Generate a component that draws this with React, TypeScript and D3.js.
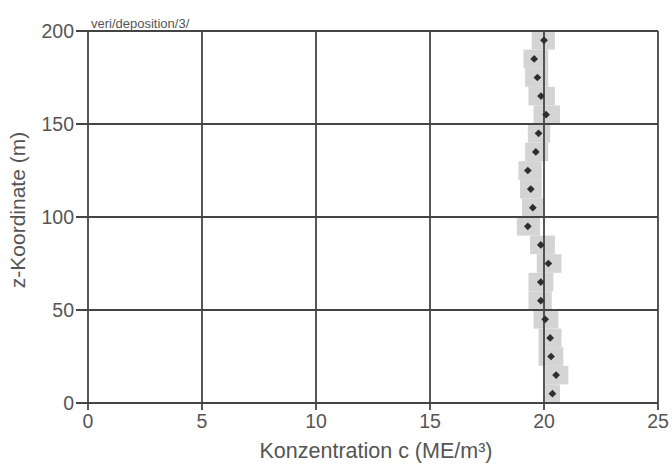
import React from "react";
import * as d3 from "d3";

// Heights (m) and concentrations
const zValues = [5, 15, 25, 35, 45, 55, 65, 75, 85, 95, 105, 115, 125, 135, 145, 155, 165, 175, 185, 195];
const concValues = [20.37, 20.53, 20.31, 20.27, 20.05, 19.86, 19.86, 20.19, 19.86, 19.29, 19.51, 19.42, 19.29, 19.64, 19.76, 20.09, 19.87, 19.71, 19.57, 20.0];
const concLow = [20.05, 20.05, 19.76, 19.76, 19.54, 19.32, 19.32, 19.68, 19.39, 18.81, 19.03, 18.95, 18.88, 19.17, 19.29, 19.54, 19.32, 19.17, 19.1, 19.46];
const concHigh = [20.7, 21.07, 20.85, 20.77, 20.63, 20.34, 20.41, 20.77, 20.48, 19.83, 19.97, 19.9, 19.9, 20.19, 20.27, 20.7, 20.48, 20.19, 20.19, 20.48];
const xTicks = [0, 5, 10, 15, 20, 25];
const yTicks = [0, 50, 100, 150, 200];

const width = 672;
const height = 464;
const marginLeft = 88;
const marginRight = 14;
const marginTop = 31;
const marginBottom = 61;

export default function App() {
  const x = d3.scaleLinear().domain([0, 25]).range([marginLeft, width - marginRight]);
  const y = d3.scaleLinear().domain([0, 200]).range([height - marginBottom, marginTop]);
  const gridColor = "#444";
  const textColor = "#555";
  const font = "'Liberation Sans', Arial, sans-serif";

  // square turned 45deg, like the scanned markers
  const marker = d3.symbol().type(d3.symbolSquare).size(30)();

  return (
    <svg
      width={width}
      height={height}
      style={{ position: "absolute", left: 0, top: 0, background: "#fff" }}
      fontFamily={font}
    >
      {/* gray uncertainty boxes */}
      {zValues.map((z, i) => (
        <rect
          key={"b" + i}
          x={x(concLow[i])}
          y={y(z + 5)}
          width={x(concHigh[i]) - x(concLow[i])}
          height={y(z - 5) - y(z + 5)}
          fill="#d4d4d4"
        />
      ))}

      {/* grid */}
      {xTicks.map((t) => (
        <line key={"gx" + t} x1={x(t)} x2={x(t)} y1={y(200)} y2={y(0) + 7} stroke={gridColor} strokeWidth={1.8} />
      ))}
      {yTicks.map((t) => (
        <line key={"gy" + t} x1={x(0) - 12} x2={x(25)} y1={y(t)} y2={y(t)} stroke={gridColor} strokeWidth={1.8} />
      ))}

      {/* points */}
      {zValues.map((z, i) => (
        <path
          key={"p" + i}
          d={marker}
          transform={`translate(${x(concValues[i])},${y(z)}) rotate(45)`}
          fill="#2e2e2e"
        />
      ))}

      {/* tick labels */}
      {yTicks.map((t) => (
        <text key={"ty" + t} x={x(0) - 14} y={y(t)} dy="0.36em" textAnchor="end" fontSize={19.5} fill={textColor}>
          {t}
        </text>
      ))}
      {xTicks.map((t) => (
        <text key={"tx" + t} x={x(t)} y={428} textAnchor="middle" fontSize={19.5} fill={textColor}>
          {t}
        </text>
      ))}

      <text x={x(0) + 3} y={y(200) - 3} fontSize={13} fill={textColor}>
        veri/deposition/3/
      </text>

      <text x={376} y={458} textAnchor="middle" fontSize={21.5} fill={textColor}>
        Konzentration c (ME/m³)
      </text>
      <text
        transform={`translate(25,210) rotate(-90)`}
        textAnchor="middle"
        fontSize={21}
        fill={textColor}
      >
        z-Koordinate (m)
      </text>
    </svg>
  );
}
